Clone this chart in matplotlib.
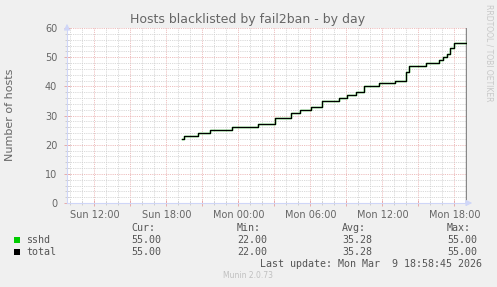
import matplotlib
matplotlib.use("Agg")
import matplotlib.pyplot as plt
from matplotlib.ticker import MultipleLocator

# --- data (hours counted from Sun 00:00) ---
step_hours = [19.28, 19.48, 20.60, 21.63, 23.50, 25.63, 27.03, 28.36, 29.10, 30.03,
              31.00, 32.36, 33.03, 33.78, 34.48, 35.69, 37.07, 37.98, 38.23, 39.61,
              40.69, 41.03, 41.36, 41.60, 41.98, 43.00]
step_values = [22, 23, 24, 25, 26, 27, 29, 31, 32, 33,
               35, 36, 37, 38, 40, 41, 42, 45, 47, 48,
               49, 50, 51, 53, 55, 55]

tick_hours = [12, 18, 24, 30, 36, 42]
tick_labels = ["Sun 12:00", "Sun 18:00", "Mon 00:00", "Mon 06:00", "Mon 12:00", "Mon 18:00"]

series_names = ["sshd", "total"]
series_colors = ["#00cc00", "#000000"]
cur_vals = ["55.00", "55.00"]
min_vals = ["22.00", "22.00"]
avg_vals = ["35.28", "35.28"]
max_vals = ["55.00", "55.00"]

W, H = 497, 287
BG = "#f0f0f0"
FONT = "#666666"
AXIS = "#cfd6f8"


def px(x, y):
    # pixel coords (from top-left) -> figure fraction
    return x / W, 1 - y / H


fig = plt.figure(figsize=(W / 100, H / 100), dpi=100, facecolor=BG)
ax = fig.add_axes([67 / W, 1 - 203 / H, 400 / W, 175 / H], facecolor="white")

t_start, t_end = 43.05 - 400 / 12, 43.05
ax.set_xlim(t_start, t_end)
ax.set_ylim(0, 60)

# grid: dotted lines
ax.xaxis.set_major_locator(MultipleLocator(3))
ax.xaxis.set_minor_locator(MultipleLocator(1))
ax.yaxis.set_major_locator(MultipleLocator(10))
ax.yaxis.set_minor_locator(MultipleLocator(2))
ax.grid(which="minor", color="#cccccc", linestyle=(0, (1, 1.2)), linewidth=0.6)
ax.grid(which="major", color="#e8a8a8", linestyle=(0, (1, 1.2)), linewidth=0.6)
ax.set_axisbelow(True)

xt = list(range(12, 43, 3))
ax.set_xticks(xt)
ax.set_xticklabels([tick_labels[tick_hours.index(h)] if h in tick_hours else "" for h in xt])
ax.tick_params(which="major", direction="inout", length=4, width=0.6, color="#e6a0a0",
               labelsize=7, labelcolor=FONT, pad=3)
ax.tick_params(which="minor", direction="inout", length=3, width=0.6, color="#c8c8c8")
ax.tick_params(axis="y", which="major", pad=5)

for s in ["top", "right"]:
    ax.spines[s].set_visible(False)
for s in ["left", "bottom"]:
    ax.spines[s].set_color(AXIS)
    ax.spines[s].set_linewidth(0.8)

# arrows on axes
ax.annotate("", xy=(0, 1.04), xytext=(0, 0.98), xycoords="axes fraction",
            arrowprops=dict(arrowstyle="-|>", color=AXIS, lw=0.8, mutation_scale=9),
            annotation_clip=False)
ax.annotate("", xy=(1.02, 0), xytext=(0.99, 0), xycoords="axes fraction",
            arrowprops=dict(arrowstyle="-|>", color=AXIS, lw=0.8, mutation_scale=9),
            annotation_clip=False)

# right edge rule
ax.axvline(t_end - 0.08, color="#888888", linewidth=1.0)

# series
ax.plot(step_hours, step_values, drawstyle="steps-post", color=series_colors[0], linewidth=1.0)
ax.plot(step_hours, step_values, drawstyle="steps-post", color=series_colors[1], linewidth=0.9)

fig.text(*px(10, 115), "Number of hosts", rotation=90, ha="center", va="center",
         fontsize=8, color=FONT)
fig.text(*px(248, 19), "Hosts blacklisted by fail2ban - by day", ha="center", va="center",
         fontsize=9, color=FONT)
fig.text(*px(489, 53), "RRDTOOL / TOBI OETIKER", rotation=270, ha="center", va="center",
         fontsize=5.5, color="#c8c8c8")

# legend
mono = dict(family="DejaVu Sans Mono", fontsize=7.2, color="#555555", va="center")
col_x = [131, 237, 342, 447]
for x, lab in zip(col_x, ["Cur:", "Min:", "Avg:", "Max:"]):
    fig.text(*px(x, 228), lab, ha="left", **mono)
for i, name in enumerate(series_names):
    y = 240 + i * 12
    fig.patches.append(plt.Rectangle(px(14, y + 3), 6 / W, 6 / H, transform=fig.transFigure,
                                     facecolor=series_colors[i], edgecolor="none"))
    fig.text(*px(26, y), name, ha="left", **mono)
    for x, v in zip(col_x, [cur_vals[i], min_vals[i], avg_vals[i], max_vals[i]]):
        fig.text(*px(x, y), v, ha="left", **mono)
fig.text(*px(482, 264), "Last update: Mon Mar  9 18:58:45 2026", ha="right", **mono)
fig.text(*px(248, 276), "Munin 2.0.73", ha="center", va="center", fontsize=5.5, color="#c0c0c0")

fig.savefig("out.png", dpi=100, facecolor=BG)
